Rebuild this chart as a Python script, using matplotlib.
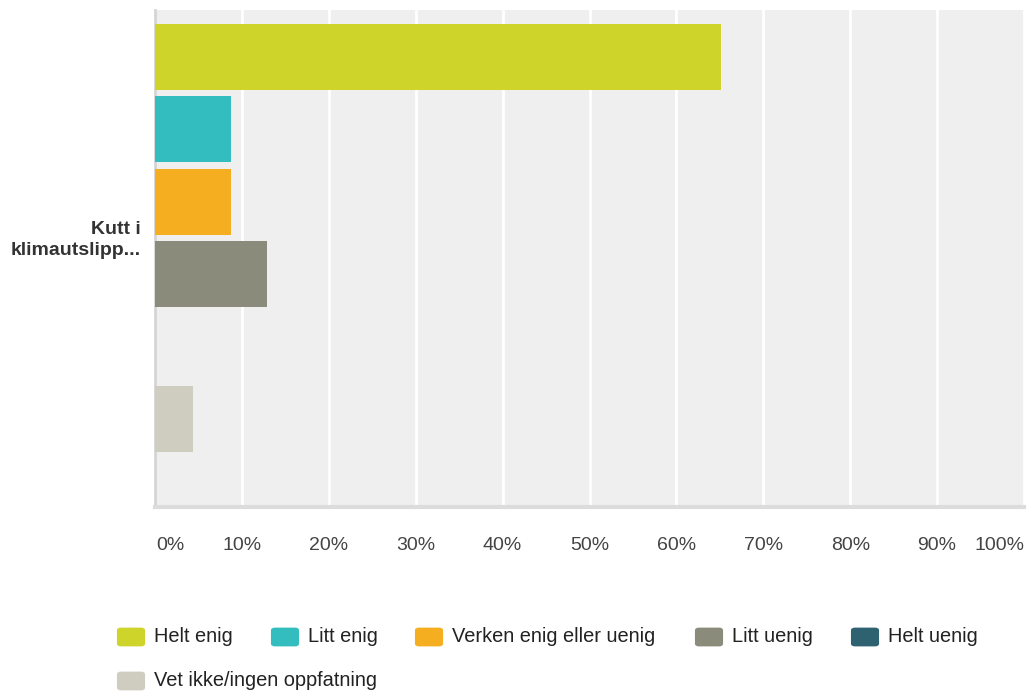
import matplotlib
matplotlib.use("Agg")
import matplotlib.pyplot as plt
from matplotlib.patches import FancyBboxPatch
from matplotlib.transforms import blended_transform_factory

plt.rcParams['font.family'] = ['Liberation Sans', 'DejaVu Sans']

category = "Kutt i\nklimautslipp..."
series = ["Helt enig", "Litt enig", "Verken enig eller uenig", "Litt uenig",
          "Helt uenig", "Vet ikke/ingen oppfatning"]
values = [65.1, 8.7, 8.7, 12.9, 0.0, 4.4]
colors = ["#cfd42a", "#33bdbf", "#f6ae21", "#8a8b7a", "#2f6270", "#cfcdbf"]
ticks = [0, 10, 20, 30, 40, 50, 60, 70, 80, 90, 100]
tick_labels = [f"{t}%" for t in ticks]

W, H = 1027, 692
fig = plt.figure(figsize=(W / 100, H / 100), dpi=100)
ax = fig.add_axes([155 / W, 1 - 507 / H, (1024 - 155) / W, (507 - 10) / H])
ax.set_facecolor("#efefef")

for i, (s, v, c) in enumerate(zip(series, values, colors)):
    ax.barh(i, v, height=0.912, color=c, zorder=3)

ax.set_xlim(0, 100)
ax.set_ylim(5 + 1.215, -0.65)
for t in ticks[1:]:
    ax.axvline(t, color="white", lw=2, zorder=1)
ax.set_yticks([])
ax.set_xticks([])
for sp in ["top", "right"]:
    ax.spines[sp].set_visible(False)
ax.spines["left"].set_color("#d5d5d5")
ax.spines["left"].set_linewidth(2)
ax.spines["bottom"].set_color("#dcdcdc")
ax.spines["bottom"].set_linewidth(3)

# x tick labels
tr = blended_transform_factory(ax.transData, fig.transFigure)
for t, lab in zip(ticks, tick_labels):
    ha = "center"
    x = t
    if t == 0:
        ha = "left"; x = 0.2
    elif t == 100:
        ha = "right"; x = 100
    ax.text(x, 1 - 545 / H, lab, transform=tr, ha=ha, va="center",
            fontsize=14, color="#444444")

fig.text(141 / W, 1 - 240 / H, category, ha="right", va="center", fontsize=14,
         fontweight="bold", color="#333333", linespacing=1.35)

# legend
legend_items = [(0, 117), (1, 271), (2, 415), (3, 695), (4, 851), (5, 117)]
rows_y = [637, 637, 637, 637, 637, 681]
for (idx, x0), yc in zip(legend_items, rows_y):
    box = FancyBboxPatch(((x0 + 2) / W, 1 - (yc + 8) / H), 24 / W, 16 / H,
                         boxstyle="round,pad=0.002,rounding_size=0.004",
                         transform=fig.transFigure, facecolor=colors[idx],
                         edgecolor="none")
    fig.patches.append(box)
    fig.text((x0 + 37) / W, 1 - yc / H, series[idx], ha="left", va="center",
             fontsize=14.4, color="#222222")

fig.savefig("out.png", dpi=100)
